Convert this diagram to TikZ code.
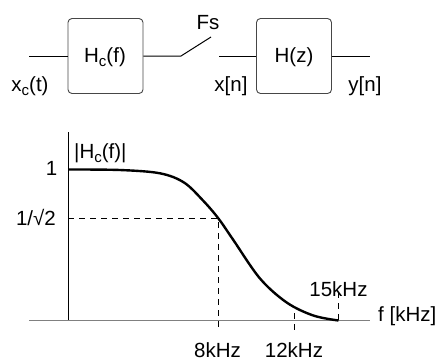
\documentclass[tikz,border=0pt]{standalone}
\usepackage{fontspec}
\setmainfont{Liberation Sans}
\usetikzlibrary{calc,positioning}
\definecolor{axisgray}{RGB}{128,128,128}
\definecolor{boxgray}{RGB}{70,70,70}

\newcommand{\subc}{\raisebox{-0.4ex}{\fontsize{15}{15}\selectfont c}}

\begin{document}
\begin{tikzpicture}[x=1pt, y=-1pt,
    every node/.style={font=\fontsize{20.5}{23}\selectfont, inner sep=0pt},
    blockbox/.style={draw=boxgray, line width=0.9pt, rounded corners=4pt, minimum width=75pt, minimum height=75pt},
    sigline/.style={line width=1pt},
    guide/.style={line width=0.9pt, dash pattern=on 6pt off 5pt}]
  \useasboundingbox (0,0) rectangle (438,360);

  % block chain
  \node[blockbox] (hc) at (105.5,56) {};
  \node[blockbox] (hz) at (294,56) {};
  \node[anchor=base] (hclab) at (105,62) {H\subc(f)};
  \node[anchor=base] (hzlab) at (294,62) {H(z)};
  \coordinate (in)  at (29,56);
  \coordinate (sw1) at (181,56);
  \coordinate (sw2) at (211,37);
  \coordinate (sw3) at (219,56);
  \coordinate (out) at (370,56);
  \draw[sigline] (in) -- (hc.west);
  \draw[sigline] (hc.east) -- (sw1) -- (sw2);
  \draw[sigline] (sw3) -- (hz.west);
  \draw[sigline] (hz.east) -- (out);
  \node[anchor=base] (xc) at (30,91) {x\subc(t)};
  \node[anchor=base] (fs) at (208,29) {Fs};
  \node[anchor=base] (xn) at (231,91) {x[n]};
  \node[anchor=base] (yn) at (365,91) {y[n]};

  % magnitude plot
  \coordinate (o)    at (68,320.5);
  \coordinate (ytop) at (68,132);
  \coordinate (xl)   at (29,320.5);
  \coordinate (xr)   at (370,320.5);
  \coordinate (p1)   at (68,169.5);
  \coordinate (p8)   at (218.3,218.3);
  \coordinate (p15)  at (338.5,320.5);
  \draw[line width=0.9pt] (o) -- (ytop);
  \draw[axisgray, line width=1.8pt] (xl) -- (xr);
  \draw[guide] (68,218.3) -- (p8) -- (218.3,331.5);
  \draw[guide] (294,313) -- (294,331.5);
  \draw[guide] (338.5,292) -- (p15);
  \draw[line width=2.4pt] plot[smooth, tension=0.55] coordinates {
    (p1) (120,170) (160,173.3) (184,182.5) (203,200.5) (p8)
    (233,239.5) (260,278.5) (286.7,302.5) (313.3,315.5) (p15)};

  \node[anchor=base east] (one)  at (57.5,175.5) {1};
  \node[anchor=base east] (half) at (56,225) {1/√2};
  \node[anchor=base west] (mag)  at (74,158) {|H\subc(f)|};
  \node[anchor=base] (k8)  at (217.5,357) {8kHz};
  \node[anchor=base] (k12) at (294,357) {12kHz};
  \node[anchor=base] (k15) at (338.5,296.5) {15kHz};
  \node[anchor=base west] (fk) at (378,321) {f [kHz]};
\end{tikzpicture}
\end{document}
